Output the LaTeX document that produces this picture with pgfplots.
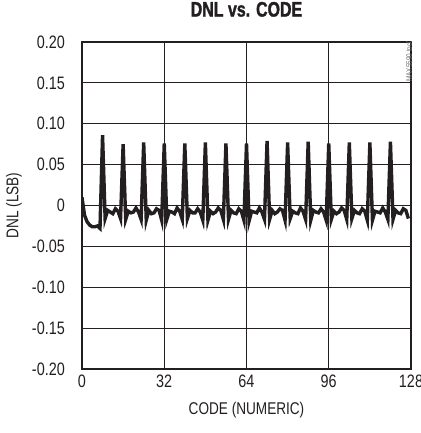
\documentclass[border=0pt]{standalone}
\usepackage{fontspec}
\setmainfont[FakeStretch=0.8]{Liberation Sans}
\newfontfamily\titlefont[FakeStretch=0.76, FakeBold=1.4]{Liberation Sans Bold}
\usepackage{pgfplots}
\pgfplotsset{compat=1.18}
\definecolor{ink}{HTML}{231F20}

\pgfplotstableread{
code dnl
0 0.010
1 -0.012
2 -0.020
3 -0.024
4 -0.026
5 -0.026
6 -0.025
7 -0.028
8 0.086
9 -0.016
10 -0.006
11 -0.008
12 -0.010
13 -0.004
14 -0.007
15 -0.016
16 0.075
17 -0.017
18 -0.007
19 -0.009
20 -0.008
21 -0.003
22 -0.008
23 -0.017
24 0.077
25 -0.018
26 -0.006
27 -0.010
28 -0.009
29 -0.004
30 -0.006
31 -0.018
32 0.076
33 -0.017
34 -0.007
35 -0.008
36 -0.010
37 -0.003
38 -0.007
39 -0.017
40 0.076
41 -0.016
42 -0.006
43 -0.009
44 -0.009
45 -0.004
46 -0.008
47 -0.018
48 0.077
49 -0.018
50 -0.007
51 -0.010
52 -0.008
53 -0.003
54 -0.006
55 -0.017
56 0.076
57 -0.017
58 -0.006
59 -0.009
60 -0.010
61 -0.004
62 -0.007
63 -0.018
64 0.076
65 -0.019
66 -0.007
67 -0.008
68 -0.009
69 -0.003
70 -0.008
71 -0.017
72 0.079
73 -0.017
74 -0.006
75 -0.010
76 -0.008
77 -0.004
78 -0.006
79 -0.018
80 0.077
81 -0.016
82 -0.007
83 -0.009
84 -0.010
85 -0.003
86 -0.007
87 -0.017
88 0.078
89 -0.018
90 -0.006
91 -0.008
92 -0.009
93 -0.004
94 -0.008
95 -0.018
96 0.076
97 -0.017
98 -0.007
99 -0.010
100 -0.008
101 -0.003
102 -0.006
103 -0.017
104 0.077
105 -0.016
106 -0.006
107 -0.009
108 -0.010
109 -0.004
110 -0.007
111 -0.018
112 0.077
113 -0.018
114 -0.007
115 -0.008
116 -0.009
117 -0.003
118 -0.008
119 -0.017
120 0.078
121 -0.017
122 -0.006
123 -0.009
124 -0.010
125 -0.004
126 -0.006
127 -0.016
}\dnltable

\begin{document}
\begin{tikzpicture}
\begin{axis}[
    scale only axis,
    width=329pt, height=327pt,
    xmin=0, xmax=128, ymin=-0.2, ymax=0.2,
    xtick={0,32,64,96,128},
    xticklabels={0,32,64,96,128},
    ytick={-0.2,-0.15,-0.1,-0.05,0,0.05,0.1,0.15,0.2},
    yticklabels={-0.20,-0.15,-0.10,-0.05,0,0.05,0.10,0.15,0.20},
    major tick length=0pt,
    grid=major,
    major grid style={ink, line width=0.8pt},
    axis line style={ink, line width=2.8pt},
    tick label style={font=\fontsize{18}{20}\selectfont, text=ink},
    xticklabel style={anchor=north, inner sep=0pt, yshift=-6pt},
    yticklabel style={anchor=east, inner sep=0pt, xshift=-17pt},
    xlabel={CODE (NUMERIC)},
    ylabel={DNL (LSB)},
    label style={font=\fontsize{17}{19}\selectfont, text=ink},
    xlabel style={at={(axis description cs:0.5,0)}, anchor=north, inner sep=0pt, yshift=-33pt},
    ylabel style={at={(axis description cs:-0.2067,0.5)}, anchor=center, inner sep=0pt},
    title={DNL vs. CODE},
    title style={font=\fontsize{21}{23}\titlefont, text=ink, at={(axis description cs:0.5,1)}, anchor=south, inner sep=0pt, yshift=19pt},
]
\addplot[ink, line width=3.4pt, line join=miter, miter limit=20] table[x=code, y=dnl] {\dnltable};
\node[rotate=90, anchor=east, font=\fontsize{8}{9}\selectfont, text=black!55, inner sep=0pt]
    at (rel axis cs:1,1) [xshift=6pt, yshift=2pt] {MAX5590 toc02};
\end{axis}
\pgfresetboundingbox
\path (-82pt,-64pt) rectangle (338pt,369pt);
\end{tikzpicture}
\end{document}
